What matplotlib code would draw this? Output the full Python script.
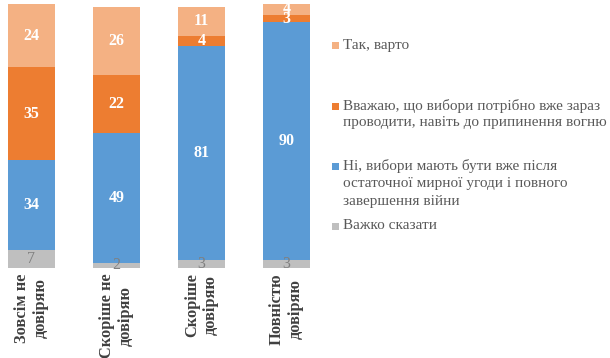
import matplotlib
matplotlib.use("Agg")
import matplotlib.pyplot as plt
from matplotlib.patches import Rectangle
import numpy as np

categories = ["Зовсім не\nдовіряю", "Скоріше не\nдовіряю", "Скоріше\nдовіряю", "Повністю\nдовіряю"]
series_names = [
    "Важко сказати",
    "Ні, вибори мають бути вже після\nостаточної мирної угоди і повного\nзавершення війни",
    "Вважаю, що вибори потрібно вже зараз\nпроводити, навіть до припинення вогню",
    "Так, варто",
]
hard_to_say = [7, 2, 3, 3]
no_after_peace = [34, 49, 81, 90]
yes_now = [35, 22, 4, 3]
yes_worth = [24, 26, 11, 4]
series_values = [hard_to_say, no_after_peace, yes_now, yes_worth]
colors = ["#BFBFBF", "#5B9BD5", "#ED7D31", "#F4B183"]
label_colors = ["#7F7F7F", "white", "white", "white"]
label_weights = ["normal", "bold", "bold", "bold"]

W, H = 610, 358
fig = plt.figure(figsize=(W / 100, H / 100), dpi=100)
plt.rcParams["font.family"] = ["Liberation Serif", "DejaVu Serif"]

# axes in pixel geometry
spacing = 85.0
xl, xr = -0.3, 3.3
left_px = 31.5 - 0.3 * spacing
ax_w = (xr - xl) * spacing
bottom_px, top_px = 268, 4
ax = fig.add_axes([left_px / W, 1 - bottom_px / H, ax_w / W, (bottom_px - top_px) / H])

x = np.arange(len(categories))
bottoms = np.zeros(len(categories))
for vals, col, lc, lw in zip(series_values, colors, label_colors, label_weights):
    vals = np.array(vals, dtype=float)
    ax.bar(x, vals, bottom=bottoms, width=0.56, color=col, edgecolor="none")
    for xi, b, v in zip(x, bottoms, vals):
        ax.text(xi, b + v / 2, f"{int(v)}", ha="center", va="center",
                color=lc, fontsize=11.5, fontweight=lw)
    bottoms += vals

ax.set_xlim(xl, xr)
ax.set_ylim(0, 100)
for s in ax.spines.values():
    s.set_visible(False)
ax.set_yticks([])
ax.set_xticks(x)
ax.set_xticklabels(categories, rotation=90, fontsize=11.8, fontweight="bold",
                   color="#404040", va="top", ha="center", multialignment="center",
                   linespacing=1.25)
ax.tick_params(axis="x", length=0, pad=4)

# legend (manual, Excel-like spacing)
legend_lines_y = [[226], [166, 184, 202], [106, 123], [45]]
for name, col, ys in zip(series_names, colors, legend_lines_y):
    lines = name.split("\n")
    y0 = ys[0]
    fig.patches.append(Rectangle((332 / W, 1 - (y0 + 3.5) / H), 7 / W, 7 / H,
                                 transform=fig.transFigure, facecolor=col,
                                 edgecolor="none"))
    for line, yy in zip(lines, ys):
        fig.text(343 / W, 1 - yy / H, line, ha="left", va="center",
                 fontsize=11, color="#595959")

fig.savefig("out.png", dpi=100)
